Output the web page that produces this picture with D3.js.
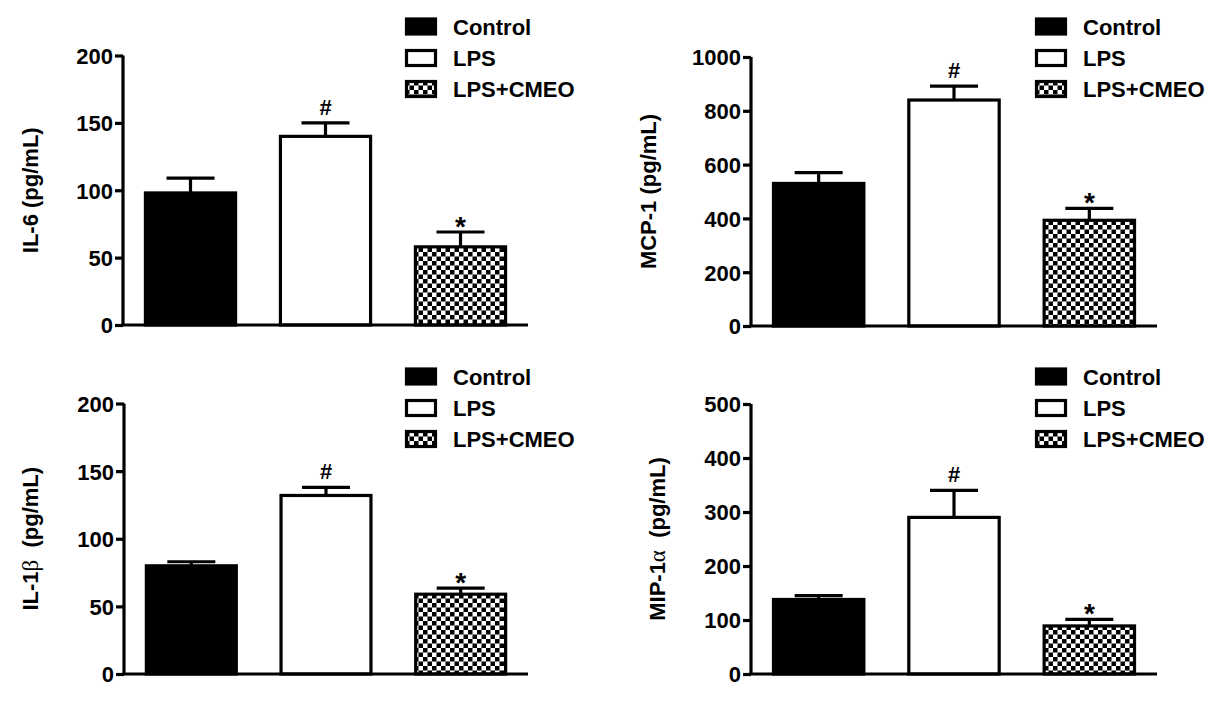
<!DOCTYPE html>
<html>
<head>
<meta charset="utf-8">
<script src="https://cdn.jsdelivr.net/npm/d3@7"></script>
<style>
  html, body { margin: 0; padding: 0; background: #fff; }
  svg { display: block; }
  text { font-family: "Liberation Sans", Arial, sans-serif; font-weight: bold; fill: #000; }
</style>
</head>
<body>
<svg id="chart" width="1215" height="702"></svg>
<script>
// ---- data ----
const categories = ["Control", "LPS", "LPS+CMEO"];
const markers = ["", "#", "*"];

const il6Mean = [98, 140, 58];
const il6Err = [11, 10, 11];
const il6Ticks = [0, 50, 100, 150, 200];

const mcp1Mean = [530, 840, 393];
const mcp1Err = [40, 52, 44];
const mcp1Ticks = [0, 200, 400, 600, 800, 1000];

const il1bMean = [80, 132, 59];
const il1bErr = [3, 6, 4.5];
const il1bTicks = [0, 50, 100, 150, 200];

const mip1aMean = [138, 290, 89];
const mip1aErr = [7, 50, 12];
const mip1aTicks = [0, 100, 200, 300, 400, 500];

// ---- layout ----
const panels = [
  { mean: il6Mean, err: il6Err, ticks: il6Ticks, label: ["IL-6 (pg/mL)", "", ""],
    x0: 123, x1: 528, yTop: 55.5, yBot: 325, labelOff: 85, legX: 405, legY: 0 },
  { mean: mcp1Mean, err: mcp1Err, ticks: mcp1Ticks, label: ["MCP-1 (pg/mL)", "", ""],
    x0: 751, x1: 1157, yTop: 57, yBot: 326, labelOff: 95, legX: 1035, legY: 0 },
  { mean: il1bMean, err: il1bErr, ticks: il1bTicks, label: ["IL-1", "\u03B2", "  (pg/mL)"],
    x0: 124, x1: 528, yTop: 403.5, yBot: 674, labelOff: 86, legX: 405, legY: 350 },
  { mean: mip1aMean, err: mip1aErr, ticks: mip1aTicks, label: ["MIP-1", "\u03B1", "  (pg/mL)"],
    x0: 751, x1: 1157, yTop: 404, yBot: 674, labelOff: 86, legX: 1035, legY: 350 }
];

const svg = d3.select("#chart");
const defs = svg.append("defs");
const pat = defs.append("pattern")
  .attr("id", "checker")
  .attr("patternUnits", "userSpaceOnUse")
  .attr("width", 9).attr("height", 9);
pat.append("rect").attr("width", 9).attr("height", 9).attr("fill", "#fff");
pat.append("rect").attr("x", 0).attr("y", 0).attr("width", 4.5).attr("height", 4.5).attr("fill", "#000");
pat.append("rect").attr("x", 4.5).attr("y", 4.5).attr("width", 4.5).attr("height", 4.5).attr("fill", "#000");

const fills = ["#000", "#fff", "url(#checker)"];
const SW = 3.2;
const FS = "22px";

panels.forEach(p => {
  const g = svg.append("g");
  const x = d3.scaleBand().domain(categories).range([p.x0, p.x1])
    .paddingInner(0.31).paddingOuter(0.155);
  const y = d3.scaleLinear().domain([0, p.ticks[p.ticks.length - 1]]).range([p.yBot, p.yTop]);

  // bars
  categories.forEach((c, i) => {
    const bx = x(c), bw = x.bandwidth();
    const top = y(p.mean[i]);
    const cx = bx + bw / 2;
    const capY = y(p.mean[i] + p.err[i]);
    // error bar (upper only)
    g.append("line")
      .attr("x1", cx).attr("x2", cx)
      .attr("y1", top).attr("y2", capY)
      .attr("stroke", "#000").attr("stroke-width", SW);
    g.append("line")
      .attr("x1", cx - 24).attr("x2", cx + 24)
      .attr("y1", capY).attr("y2", capY)
      .attr("stroke", "#000").attr("stroke-width", SW);
    g.append("rect")
      .attr("x", bx + 1.5).attr("width", bw - 3)
      .attr("y", top).attr("height", y(0) - top)
      .attr("fill", fills[i])
      .attr("stroke", "#000").attr("stroke-width", SW);
    // markers
    if (markers[i] === "#") {
      g.append("text").attr("x", cx).attr("y", capY - 8)
        .attr("text-anchor", "middle").style("font-size", "22px").text("#");
    } else if (markers[i] === "*") {
      g.append("text").attr("x", cx).attr("y", capY + 4)
        .attr("text-anchor", "middle").style("font-size", "28px").text("*");
    }
  });

  // y axis
  const ax = g.append("g").attr("transform", `translate(${p.x0},0)`)
    .call(d3.axisLeft(y).tickValues(p.ticks).tickSize(8).tickSizeOuter(0).tickPadding(2)
      .tickFormat(d3.format("d")));
  ax.select(".domain").attr("stroke", "#000").attr("stroke-width", SW)
    .attr("d", `M0,${p.yTop}V${p.yBot}`);
  ax.selectAll(".tick line").attr("stroke", "#000").attr("stroke-width", SW);
  ax.selectAll(".tick text").style("font-size", FS)
    .style("font-family", "'Liberation Sans', Arial, sans-serif").style("font-weight", "bold")
    .attr("dy", "0.36em");

  // x axis baseline
  g.append("line")
    .attr("x1", p.x0 - 1.5).attr("x2", p.x1)
    .attr("y1", y(0)).attr("y2", y(0))
    .attr("stroke", "#000").attr("stroke-width", SW);

  // y label
  const lx = p.x0 - p.labelOff, ly = (p.yTop + p.yBot) / 2;
  const t = g.append("text")
    .attr("transform", `translate(${lx},${ly}) rotate(-90)`)
    .attr("text-anchor", "middle").style("font-size", FS);
  t.append("tspan").text(p.label[0]);
  if (p.label[1]) {
    t.append("tspan").text(p.label[1])
      .style("font-family", "'Liberation Serif', 'DejaVu Serif', serif")
      .style("font-weight", "normal").style("font-size", "23px");
    t.append("tspan").text(p.label[2]).attr("xml:space", "preserve");
  }

  // legend
  const rowY = [26.5, 58, 89];
  categories.forEach((c, i) => {
    const cy = p.legY + rowY[i];
    g.append("rect")
      .attr("x", p.legX + 1.5).attr("y", cy - 7.5)
      .attr("width", 29).attr("height", 15)
      .attr("fill", fills[i]).attr("stroke", "#000").attr("stroke-width", SW);
    g.append("text").attr("x", p.legX + 48).attr("y", cy + 8)
      .style("font-size", FS).text(c);
  });
});
</script>
</body>
</html>
